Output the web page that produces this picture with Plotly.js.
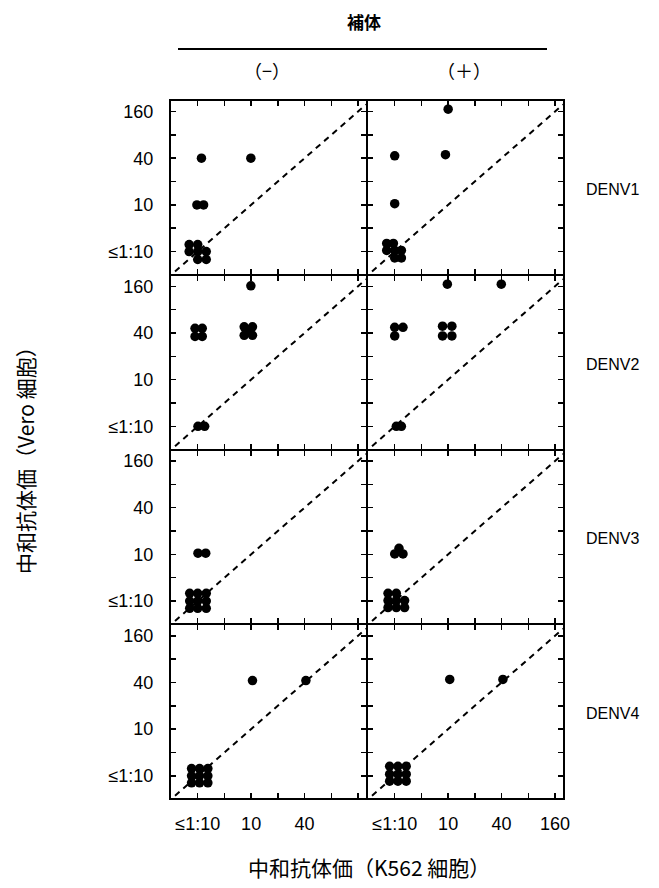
<!DOCTYPE html>
<html>
<head>
<meta charset="utf-8">
<script src="https://cdn.plot.ly/plotly-3.0.1.min.js"></script>
<style>html,body{margin:0;padding:0;background:#fff;}#chart{width:659px;height:888px;}</style>
</head>
<body>
<div id="chart"></div>
<script>
// Titer axis: log2 steps, index 0 = "≤1:10", 2 = 10, 4 = 40, 6 = 160
const tickIndex = [0, 1, 2, 3, 4, 5, 6];
const yTickText = ["≤1:10", "", "10", "", "40", "", "160"];
const xTickTextLeft = ["≤1:10", "", "10", "", "40", "", ""];
const xTickTextRight = ["≤1:10", "", "10", "", "40", "", "160"];
const serotypes = ["DENV1", "DENV2", "DENV3", "DENV4"];
const complementLabels = ["（−）", "（＋）"];
const identityLine = [-0.85, 6.3];

// Points (x = K562 titer index, y = Vero titer index), overlapping samples slightly offset as drawn
const denv1MinusX = [0.14, 1.99, -0.03, 0.22, -0.32, 0.0, -0.32, 0.0, 0.32, 0.0, 0.32];
const denv1MinusY = [4.0, 4.0, 2.0, 2.0, 0.3, 0.3, 0.0, 0.0, 0.0, -0.34, -0.34];
const denv1PlusX = [2.0, 1.9, 0.0, 0.0, -0.3, -0.05, -0.3, 0.0, 0.25, 0.0, 0.25];
const denv1PlusY = [6.1, 4.15, 4.1, 2.05, 0.35, 0.35, 0.05, 0.05, 0.05, -0.27, -0.27];
const denv2MinusX = [1.99, -0.1, 0.17, -0.1, 0.17, 1.74, 2.05, 1.74, 2.05, 1.9, 0.01, 0.26];
const denv2MinusY = [6.02, 4.2, 4.2, 3.85, 3.85, 4.26, 4.26, 3.9, 3.9, 4.08, 0.0, 0.0];
const denv2PlusX = [1.97, 3.99, 0.0, 0.31, 0.0, 1.79, 2.14, 1.79, 2.14, 0.06, 0.25];
const denv2PlusY = [6.09, 6.09, 4.24, 4.24, 3.87, 4.29, 4.29, 3.87, 3.87, 0.0, 0.0];
const denv3MinusX = [0.01, 0.3, -0.3, 0.0, 0.32, -0.3, 0.0, 0.32, -0.3, 0.0, 0.32];
const denv3MinusY = [2.05, 2.05, 0.33, 0.33, 0.33, 0.0, 0.0, 0.0, -0.31, -0.31, -0.31];
const denv3PlusX = [0.16, 0.0, 0.31, -0.25, 0.06, -0.25, 0.06, 0.37, -0.25, 0.06, 0.37];
const denv3PlusY = [2.26, 2.02, 2.02, 0.33, 0.33, 0.02, 0.02, 0.02, -0.28, -0.28, -0.28];
const denv4MinusX = [2.05, 4.05, -0.23, 0.07, 0.38, -0.23, 0.07, 0.38, -0.23, 0.07, 0.38];
const denv4MinusY = [4.08, 4.08, 0.31, 0.31, 0.31, 0.0, 0.0, 0.0, -0.3, -0.3, -0.3];
const denv4PlusX = [2.06, 4.05, -0.19, 0.12, 0.43, -0.19, 0.12, 0.43, -0.19, 0.12, 0.43];
const denv4PlusY = [4.13, 4.13, 0.41, 0.41, 0.41, 0.07, 0.07, 0.07, -0.23, -0.23, -0.23];

const panelData = [
  [[denv1MinusX, denv1MinusY], [denv1PlusX, denv1PlusY]],
  [[denv2MinusX, denv2MinusY], [denv2PlusX, denv2PlusY]],
  [[denv3MinusX, denv3MinusY], [denv3PlusX, denv3PlusY]],
  [[denv4MinusX, denv4MinusY], [denv4PlusX, denv4PlusY]]
];

// ---- layout geometry (pixels) ----
const W = 659, H = 888;
const LW = 2;              // axis line width; panels separated by LW so shared borders coincide
const colEdges = [[171, 366], [366 + LW, 563]];
const rowTop = 101, rowBottom = 798;
const rowH = (rowBottom - rowTop - 3 * LW) / 4;
const px = v => v / W;
const py = v => 1 - v / H;
const numFont = "Arial, 'Liberation Sans', sans-serif";
const cjkFont = "'Noto Sans CJK JP', 'Noto Sans CJK SC', sans-serif";

const traces = [];
const layout = {
  width: W, height: H,
  margin: {l: 0, r: 0, t: 0, b: 0},
  paper_bgcolor: "#fff", plot_bgcolor: "#fff",
  showlegend: false,
  annotations: [], shapes: []
};

let n = 0;
for (let r = 0; r < 4; r++) {
  for (let c = 0; c < 2; c++) {
    n++;
    const xa = n === 1 ? "xaxis" : "xaxis" + n;
    const ya = n === 1 ? "yaxis" : "yaxis" + n;
    const xr = n === 1 ? "x" : "x" + n;
    const yr = n === 1 ? "y" : "y" + n;
    const top = rowTop + r * (rowH + LW), bot = top + rowH;
    layout[xa] = {
      domain: [px(colEdges[c][0]), px(colEdges[c][1])],
      anchor: yr, range: [-1.0, 6.3],
      tickmode: "array", tickvals: tickIndex,
      ticktext: c === 0 ? xTickTextLeft : xTickTextRight,
      showticklabels: r === 3,
      ticks: "inside", ticklen: 5, tickwidth: 1.5, tickcolor: "#000",
      mirror: "ticks", showline: true, linewidth: LW, linecolor: "#000",
      showgrid: false, zeroline: false, fixedrange: true,
      ticklabelstandoff: 8,
      tickfont: {family: numFont, size: 18, color: "#000"}
    };
    layout[ya] = {
      domain: [py(bot), py(top)],
      anchor: xr, range: [-0.95, 6.45],
      tickmode: "array", tickvals: tickIndex, ticktext: yTickText,
      showticklabels: c === 0,
      ticks: "inside", ticklen: 5, tickwidth: 1.5, tickcolor: "#000",
      mirror: "ticks", showline: true, linewidth: LW, linecolor: "#000",
      showgrid: false, zeroline: false, fixedrange: true,
      ticklabelstandoff: 12,
      tickfont: {family: numFont, size: 18, color: "#000"}
    };
    traces.push({
      type: "scatter", mode: "lines", xaxis: xr, yaxis: yr,
      x: identityLine, y: identityLine, hoverinfo: "skip",
      line: {color: "#000", width: 2, dash: "6px,5px"}
    });
    traces.push({
      type: "scatter", mode: "markers", xaxis: xr, yaxis: yr,
      x: panelData[r][c][0], y: panelData[r][c][1],
      marker: {color: "#000", size: 9.5, line: {width: 0}}
    });
    if (c === 1) {
      layout.annotations.push({
        xref: "paper", yref: "paper", x: px(584), y: py((top + bot) / 2 + 2),
        xanchor: "left", yanchor: "middle", showarrow: false,
        text: serotypes[r], font: {family: numFont, size: 16, color: "#000"}
      });
    }
  }
}

// header
layout.annotations.push({
  xref: "paper", yref: "paper", x: px(364), y: py(22), xanchor: "center", yanchor: "middle",
  showarrow: false, text: "<b>補体</b>", font: {family: cjkFont, size: 17, color: "#000"}
});
layout.shapes.push({
  type: "line", xref: "paper", yref: "paper",
  x0: px(178), x1: px(547), y0: py(49), y1: py(49),
  line: {color: "#000", width: 2}
});
complementLabels.forEach((t, i) => {
  layout.annotations.push({
    xref: "paper", yref: "paper", x: px((colEdges[i][0] + colEdges[i][1]) / 2 - 2), y: py(70),
    xanchor: "center", yanchor: "middle", showarrow: false,
    text: t, font: {family: cjkFont, size: 18, color: "#000"}
  });
});
// axis titles
layout.annotations.push({
  xref: "paper", yref: "paper", x: px(369), y: py(867), xanchor: "center", yanchor: "middle",
  showarrow: false, text: "中和抗体価（K562 細胞）", font: {family: cjkFont, size: 21, color: "#000"}
});
layout.annotations.push({
  xref: "paper", yref: "paper", x: px(25), y: py(455), xanchor: "center", yanchor: "middle",
  showarrow: false, textangle: -90, text: "中和抗体価（Vero 細胞）", font: {family: cjkFont, size: 21, color: "#000"}
});

Plotly.newPlot("chart", traces, layout, {staticPlot: true, displayModeBar: false});
</script>
</body>
</html>
